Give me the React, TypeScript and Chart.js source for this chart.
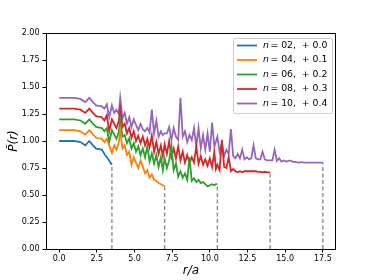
import React, { useEffect, useRef } from "react";
import { Chart, registerables } from "chart.js";
Chart.register(...registerables);

// r/a sample positions (shared grid)
const R = [
  0, 1, 1.41, 1.73, 2, 2.24, 2.45, 2.83, 3, 3.16, 3.32, 3.5,
  3.65, 3.8, 3.95, 4.05, 4.2, 4.35, 4.5, 4.65, 4.8, 4.95, 5.1, 5.25, 5.4, 5.55, 5.7, 5.85, 6.0, 6.15, 6.3, 6.45, 6.6, 6.75, 6.88, 7.0,
  7.15, 7.3, 7.45, 7.6, 7.75, 7.9, 8.05, 8.2, 8.35, 8.5, 8.65, 8.8, 8.95, 9.1, 9.25, 9.4, 9.55, 9.7, 9.85, 10.0, 10.15, 10.3, 10.4, 10.5,
  10.65, 10.8, 10.95, 11.1, 11.25, 11.4, 11.55, 11.7, 11.85, 12.0, 12.15, 12.3, 12.45, 12.6, 12.75, 12.9, 13.05, 13.2, 13.35, 13.5, 13.65, 13.8, 13.9, 14.0,
  14.15, 14.3, 14.45, 14.6, 14.75, 14.9, 15.1, 15.3, 15.5, 15.7, 15.9, 16.1, 16.3, 16.5, 16.7, 16.9, 17.1, 17.3, 17.5,
];

const n02 = [1.0, 1.0, 0.99, 0.96, 1.0, 0.96, 0.93, 0.92, 0.88, 0.85, 0.82, 0.78];

const n04 = [
  1.1, 1.1, 1.09, 1.06, 1.1, 1.06, 1.03, 1.02, 0.99, 1.02, 0.96, 0.89,
  0.96, 0.92, 0.98, 1.1, 0.93, 0.96, 0.87, 0.9, 0.78, 0.85, 0.8, 0.75, 0.82, 0.76, 0.7, 0.73, 0.66, 0.69, 0.64, 0.63, 0.61, 0.6, 0.59, 0.58,
];

const n06 = [
  1.2, 1.2, 1.19, 1.16, 1.2, 1.16, 1.13, 1.12, 1.09, 1.12, 0.99, 1.1,
  1.06, 1.02, 1.08, 1.19, 1.04, 1.055, 0.98, 1.025, 0.93, 0.98, 0.9, 0.95, 0.87, 0.93, 0.85, 0.95, 0.81, 0.885, 0.79, 0.87, 0.76, 0.85, 0.73, 0.84,
  0.75, 0.82, 0.95, 0.73, 0.79, 0.67, 0.72, 0.66, 0.7, 0.64, 0.85, 0.63, 0.655, 0.62, 0.64, 0.61, 0.62, 0.6, 0.58, 0.59, 0.6, 0.59, 0.6, 0.6,
];

const n08 = [
  1.3, 1.3, 1.29, 1.26, 1.3, 1.26, 1.23, 1.22, 1.19, 1.24, 1.09, 1.2,
  1.16, 1.12, 1.18, 1.3, 1.13, 1.16, 1.07, 1.12, 1.03, 1.09, 1.0, 1.05, 0.98, 1.04, 0.96, 1.02, 0.94, 1.05, 0.9, 0.99, 0.88, 0.96, 0.86, 0.97,
  0.88, 1.0, 0.85, 0.93, 0.84, 0.95, 0.82, 0.9, 0.8, 0.87, 0.79, 0.85, 0.8, 0.95, 0.79, 0.86, 0.78, 0.83, 0.77, 0.84, 0.76, 0.9, 0.74, 0.78,
  0.73, 1.01, 0.76, 0.75, 0.85, 0.72, 0.74, 0.72, 0.71, 0.72, 0.71, 0.72, 0.72, 0.72, 0.72, 0.72, 0.72, 0.715, 0.715, 0.71, 0.715, 0.71, 0.71, 0.71,
];

const n10 = [
  1.4, 1.4, 1.39, 1.36, 1.4, 1.36, 1.33, 1.32, 1.3, 1.34, 1.22, 1.33,
  1.26, 1.29, 1.25, 1.4, 1.21, 1.26, 1.16, 1.22, 1.13, 1.2, 1.15, 1.1, 1.16, 1.11, 1.09, 1.12, 1.08, 1.29, 1.07, 1.19, 1.04, 1.09, 1.055, 1.07,
  1.07, 1.13, 1.01, 1.12, 1.04, 1.01, 1.4, 1.04, 1.09, 0.99, 1.055, 1.01, 1.12, 0.95, 1.12, 0.93, 1.055, 0.92, 1.07, 0.9, 1.17, 0.95, 0.99, 1.04,
  0.9, 0.98, 0.86, 0.92, 0.88, 1.11, 0.86, 0.84, 0.88, 0.84, 0.92, 0.83, 0.85, 0.83, 0.84, 0.96, 0.84, 0.83, 0.83, 0.9, 0.83, 0.82, 0.82, 0.82,
  0.82, 0.92, 0.815, 0.84, 0.81, 0.82, 0.81, 0.82, 0.81, 0.805, 0.8, 0.805, 0.8, 0.8, 0.8, 0.8, 0.8, 0.8, 0.8,
];

const nLabels = ["02", "04", "06", "08", "10"];
const offsetLabels = ["0.0", "0.1", "0.2", "0.3", "0.4"];
const colors = ["#1f77b4", "#ff7f0e", "#2ca02c", "#d62728", "#9467bd"];
const xTicks = [0, 2.5, 5, 7.5, 10, 12.5, 15, 17.5];
const yTicks = [0, 0.25, 0.5, 0.75, 1.0, 1.25, 1.5, 1.75, 2.0];

const FONT = "'DejaVu Sans', sans-serif";

export default function App() {
  const ref = useRef<HTMLCanvasElement>(null);
  useEffect(() => {
    if (!ref.current) return;
    const series = [n02, n04, n06, n08, n10];
    const lineSets = series.map((vals, i) => ({
      label: `n = ${nLabels[i]}, + ${offsetLabels[i]}`,
      data: vals.map((v, j) => ({ x: R[j], y: v })),
      borderColor: colors[i],
      backgroundColor: colors[i],
      borderWidth: 1.8,
      pointRadius: 0,
      tension: 0,
      fill: false,
      order: 1,
    }));
    const dashSets = series.map((vals) => {
      const xe = R[vals.length - 1];
      const ye = vals[vals.length - 1];
      return {
        label: "",
        data: [
          { x: xe, y: 0 },
          { x: xe, y: ye },
        ],
        borderColor: "rgba(0,0,0,0.45)",
        borderDash: [4, 2.5],
        borderWidth: 1.4,
        pointRadius: 0,
        fill: false,
        order: 2,
      };
    });

    const decor = {
      id: "decor",
      afterDraw(chart: any) {
        const ctx = chart.ctx as CanvasRenderingContext2D;
        const a = chart.chartArea;
        ctx.save();
        // frame
        ctx.strokeStyle = "#000";
        ctx.lineWidth = 1;
        ctx.strokeRect(Math.round(a.left) + 0.5, Math.round(a.top) + 0.5, Math.round(a.right - a.left) - 1, Math.round(a.bottom - a.top));
        // axis titles
        ctx.fillStyle = "#000";
        ctx.font = `italic 12px ${FONT}`;
        ctx.textAlign = "center";
        ctx.textBaseline = "middle";
        ctx.fillText("r/a", (a.left + a.right) / 2, 271);
        ctx.save();
        ctx.translate(14, (a.top + a.bottom) / 2);
        ctx.rotate(-Math.PI / 2);
        ctx.fillText("P\u0303(r)", 0, 0);
        ctx.restore();
        // legend
        const bx = 233, by = 38, bw = 99, bh = 75;
        ctx.fillStyle = "rgba(255,255,255,0.85)";
        ctx.strokeStyle = "#cccccc";
        ctx.lineWidth = 1;
        ctx.beginPath();
        (ctx as any).roundRect(bx + 0.5, by + 0.5, bw, bh, 2);
        ctx.fill();
        ctx.stroke();
        for (let i = 0; i < series.length; i++) {
          const y = 45.5 + i * 14.5;
          ctx.strokeStyle = colors[i];
          ctx.lineWidth = 1.8;
          ctx.beginPath();
          ctx.moveTo(237, y);
          ctx.lineTo(257, y);
          ctx.stroke();
          ctx.fillStyle = "#000";
          ctx.textAlign = "left";
          ctx.textBaseline = "middle";
          ctx.font = `italic 9.3px ${FONT}`;
          ctx.fillText("n", 263, y);
          const w = ctx.measureText("n").width;
          ctx.font = `9.3px ${FONT}`;
          ctx.fillText(`= ${nLabels[i]},  + ${offsetLabels[i]}`, 263 + w + 1.5, y);
        }
        ctx.restore();
      },
    };

    const chart = new Chart(ref.current, {
      type: "line",
      data: { datasets: [...dashSets, ...lineSets] as any },
      options: {
        animation: false,
        responsive: false,
        maintainAspectRatio: false,
        layout: { padding: { left: 0, right: 38, top: 33, bottom: 0 } },
        plugins: { legend: { display: false }, tooltip: { enabled: false } },
        scales: {
          x: {
            type: "linear",
            min: -0.875,
            max: 18.375,
            afterBuildTicks: (s: any) => {
              s.ticks = xTicks.map((v) => ({ value: v }));
            },
            afterFit: (s: any) => {
              s.height = 31;
            },
            border: { display: false },
            grid: { display: true, drawOnChartArea: false, drawTicks: true, tickLength: 3.5, color: "#000", lineWidth: 1 },
            ticks: {
              autoSkip: false,
              maxRotation: 0,
              padding: 2,
              color: "#000",
              font: { family: FONT, size: 8 },
              callback: (v: any) => Number(v).toFixed(1),
            },
          },
          y: {
            type: "linear",
            min: 0,
            max: 2,
            afterBuildTicks: (s: any) => {
              s.ticks = yTicks.map((v) => ({ value: v }));
            },
            afterFit: (s: any) => {
              s.width = 46;
            },
            border: { display: false },
            grid: { display: true, drawOnChartArea: false, drawTicks: true, tickLength: 3.5, color: "#000", lineWidth: 1 },
            ticks: {
              autoSkip: false,
              padding: 3,
              color: "#000",
              font: { family: FONT, size: 8 },
              callback: (v: any) => Number(v).toFixed(2),
            },
          },
        },
      },
      plugins: [decor],
    });
    return () => chart.destroy();
  }, []);

  return (
    <div style={{ position: "absolute", left: 0, top: 0, width: 374, height: 280, background: "#fff" }}>
      <canvas ref={ref} width={374} height={280} style={{ display: "block", width: 374, height: 280 }} />
    </div>
  );
}
